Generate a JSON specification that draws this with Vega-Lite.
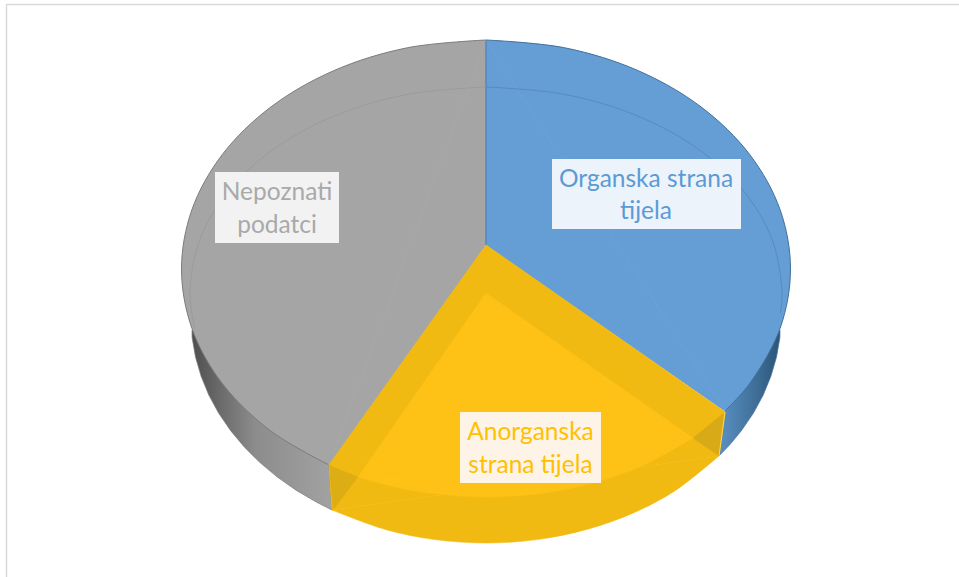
{"$schema":"https://vega.github.io/schema/vega-lite/v6.json","width":959,"height":577,"autosize":"none","padding":0,"background":"#ffffff","config":{"view":{"stroke":null}},
"datasets":{
"shapes":[
{"p":"frame","i":0,"x":6.5,"y":577},{"p":"frame","i":1,"x":6.5,"y":4.5},{"p":"frame","i":2,"x":959,"y":4.5},
{"p":"gwall","i":0,"x":329,"y":465},{"p":"gwall","i":1,"x":332,"y":510},{"p":"gwall","i":2,"x":316.8,"y":502.3},{"p":"gwall","i":3,"x":296.4,"y":490.4},{"p":"gwall","i":4,"x":277.4,"y":477.1},{"p":"gwall","i":5,"x":260,"y":462.6},{"p":"gwall","i":6,"x":244.3,"y":447},{"p":"gwall","i":7,"x":230.5,"y":430.5},{"p":"gwall","i":8,"x":218.6,"y":413.1},{"p":"gwall","i":9,"x":208.8,"y":395},{"p":"gwall","i":10,"x":201.1,"y":376.2},{"p":"gwall","i":11,"x":195.5,"y":357},{"p":"gwall","i":12,"x":192.1,"y":337.6},{"p":"gwall","i":13,"x":192,"y":330},
{"p":"bwall","i":0,"x":725,"y":411},{"p":"bwall","i":1,"x":719,"y":456},{"p":"bwall","i":2,"x":730.6,"y":443.8},{"p":"bwall","i":3,"x":741.5,"y":430.5},{"p":"bwall","i":4,"x":753.4,"y":413.1},{"p":"bwall","i":5,"x":763.2,"y":395},{"p":"bwall","i":6,"x":770.9,"y":376.2},{"p":"bwall","i":7,"x":776.5,"y":357},{"p":"bwall","i":8,"x":779.9,"y":337.6},{"p":"bwall","i":9,"x":780,"y":330},
{"p":"gface","i":0,"x":329,"y":465},{"p":"gface","i":1,"x":270.7,"y":430.9},{"p":"gface","i":2,"x":222.3,"y":383.5},{"p":"gface","i":3,"x":191.9,"y":328.3},{"p":"gface","i":4,"x":181.5,"y":269},{"p":"gface","i":5,"x":191.9,"y":209.7},{"p":"gface","i":6,"x":222.3,"y":154.5},{"p":"gface","i":7,"x":270.7,"y":107.1},{"p":"gface","i":8,"x":333.7,"y":70.7},{"p":"gface","i":9,"x":407.2,"y":47.8},{"p":"gface","i":10,"x":486,"y":40},
{"p":"gtri","i":0,"x":486,"y":40},{"p":"gtri","i":1,"x":486,"y":245},{"p":"gtri","i":2,"x":329,"y":465},{"p":"gtri","i":3,"x":486,"y":40},
{"p":"bface","i":0,"x":486,"y":40},{"p":"bface","i":1,"x":564.8,"y":47.8},{"p":"bface","i":2,"x":638.3,"y":70.7},{"p":"bface","i":3,"x":701.3,"y":107.1},{"p":"bface","i":4,"x":749.7,"y":154.5},{"p":"bface","i":5,"x":780.1,"y":209.7},{"p":"bface","i":6,"x":790.5,"y":269},{"p":"bface","i":7,"x":780.1,"y":328.3},{"p":"bface","i":8,"x":749.7,"y":383.5},{"p":"bface","i":9,"x":725,"y":411},
{"p":"btri","i":0,"x":486,"y":40},{"p":"btri","i":1,"x":725,"y":411},{"p":"btri","i":2,"x":486,"y":245},{"p":"btri","i":3,"x":486,"y":40},
{"p":"seam","i":0,"x":486,"y":40},{"p":"seam","i":1,"x":486,"y":245},
{"p":"ginner","i":0,"x":194.5,"y":327.6},{"p":"ginner","i":1,"x":190,"y":292},{"p":"ginner","i":2,"x":200.1,"y":238.9},{"p":"ginner","i":3,"x":229.7,"y":189.5},{"p":"ginner","i":4,"x":276.7,"y":147},{"p":"ginner","i":5,"x":338,"y":114.5},{"p":"ginner","i":6,"x":409.4,"y":94},{"p":"ginner","i":7,"x":486,"y":87},
{"p":"binner","i":0,"x":486,"y":87},{"p":"binner","i":1,"x":562.6,"y":94},{"p":"binner","i":2,"x":634,"y":114.5},{"p":"binner","i":3,"x":695.3,"y":147},{"p":"binner","i":4,"x":742.3,"y":189.5},{"p":"binner","i":5,"x":771.9,"y":238.9},{"p":"binner","i":6,"x":782,"y":292},{"p":"binner","i":7,"x":780.4,"y":313.4},
{"p":"yarc","i":0,"x":332,"y":510},{"p":"yarc","i":1,"x":385.1,"y":529.4},{"p":"yarc","i":2,"x":434.8,"y":539.6},{"p":"yarc","i":3,"x":486,"y":543},{"p":"yarc","i":4,"x":537.2,"y":539.6},{"p":"yarc","i":5,"x":586.9,"y":529.4},{"p":"yarc","i":6,"x":633.5,"y":512.9},{"p":"yarc","i":7,"x":675.6,"y":490.4},{"p":"yarc","i":8,"x":719,"y":456},
{"p":"ypoly","i":0,"x":486,"y":245},{"p":"ypoly","i":1,"x":725,"y":412},{"p":"ypoly","i":2,"x":719,"y":456},{"p":"ypoly","i":3,"x":332,"y":510},{"p":"ypoly","i":4,"x":329,"y":465},{"p":"ypoly","i":5,"x":486,"y":245},
{"p":"ybarc","i":0,"x":358,"y":477},{"p":"ybarc","i":1,"x":409.6,"y":490},{"p":"ybarc","i":2,"x":486,"y":497},{"p":"ybarc","i":3,"x":562.4,"y":490},{"p":"ybarc","i":4,"x":633.5,"y":469.5},{"p":"ybarc","i":5,"x":693,"y":438},
{"p":"ybtri","i":0,"x":486,"y":293},{"p":"ybtri","i":1,"x":693,"y":438},{"p":"ybtri","i":2,"x":358,"y":477},{"p":"ybtri","i":3,"x":486,"y":293},
{"p":"ydl","i":0,"x":329,"y":465},{"p":"ydl","i":1,"x":358,"y":477},{"p":"ydl","i":2,"x":333,"y":510},
{"p":"ydr","i":0,"x":725,"y":412},{"p":"ydr","i":1,"x":693,"y":438},{"p":"ydr","i":2,"x":719,"y":456},
{"p":"yedge","i":0,"x":725,"y":412},{"p":"yedge","i":1,"x":719,"y":456}
],
"boxes":[
{"name":"Nepoznati podatci","x":215,"x2":339,"y":172,"y2":243},
{"name":"Organska strana tijela","x":552,"x2":741,"y":159,"y2":229},
{"name":"Anorganska strana tijela","x":460,"x2":601,"y":412,"y2":483}
],
"labels":[
{"name":"Nepoznati podatci","t":"Nepoznati","x":277,"y":200},
{"name":"Nepoznati podatci","t":"podatci","x":277,"y":233},
{"name":"Organska strana tijela","t":"Organska strana","x":646,"y":187},
{"name":"Organska strana tijela","t":"tijela","x":646,"y":219},
{"name":"Anorganska strana tijela","t":"Anorganska","x":530.5,"y":440},
{"name":"Anorganska strana tijela","t":"strana tijela","x":530.5,"y":473}
]},
"encoding":{
"x":{"field":"x","type":"quantitative","axis":null,"scale":{"domain":[0,959],"nice":false,"zero":false}},
"y":{"field":"y","type":"quantitative","axis":null,"scale":{"domain":[577,0],"nice":false,"zero":false}}
},
"layer":[
{"data":{"name":"shapes"},"transform":[{"filter":"datum.p=='frame'"}],"mark":{"type":"line","stroke":"#d9d9d9","strokeWidth":1.5},"encoding":{"order":{"field":"i","type":"quantitative"}}},
{"data":{"name":"shapes"},"transform":[{"filter":"datum.p=='gwall'"}],"mark":{"type":"line","strokeWidth":0.7,"stroke":"#777777","fill":{"gradient":"linear","x1":0,"x2":1,"y1":0,"y2":0,"stops":[{"offset":0,"color":"#4f4f4f"},{"offset":0.45,"color":"#8c8c8c"},{"offset":1,"color":"#a2a2a2"}]}},"encoding":{"order":{"field":"i","type":"quantitative"}}},
{"data":{"name":"shapes"},"transform":[{"filter":"datum.p=='bwall'"}],"mark":{"type":"line","strokeWidth":0.7,"stroke":"#3f6f9c","fill":{"gradient":"linear","x1":0,"x2":1,"y1":0,"y2":0,"stops":[{"offset":0,"color":"#5a90c4"},{"offset":0.5,"color":"#44759f"},{"offset":1,"color":"#2b5478"}]}},"encoding":{"order":{"field":"i","type":"quantitative"}}},
{"data":{"name":"shapes"},"transform":[{"filter":"datum.p=='gface'"}],"mark":{"type":"line","interpolate":"catmull-rom","fill":"#a5a5a5","stroke":"#7c7c7c","strokeWidth":1},"encoding":{"order":{"field":"i","type":"quantitative"}}},
{"data":{"name":"shapes"},"transform":[{"filter":"datum.p=='gtri'"}],"mark":{"type":"line","fill":"#a5a5a5","stroke":"#a5a5a5","strokeWidth":1},"encoding":{"order":{"field":"i","type":"quantitative"}}},
{"data":{"name":"shapes"},"transform":[{"filter":"datum.p=='bface'"}],"mark":{"type":"line","interpolate":"catmull-rom","fill":"#659dd5","stroke":"#41719c","strokeWidth":1},"encoding":{"order":{"field":"i","type":"quantitative"}}},
{"data":{"name":"shapes"},"transform":[{"filter":"datum.p=='btri'"}],"mark":{"type":"line","fill":"#659dd5","stroke":"#659dd5","strokeWidth":1},"encoding":{"order":{"field":"i","type":"quantitative"}}},
{"data":{"name":"shapes"},"transform":[{"filter":"datum.p=='seam'"}],"mark":{"type":"line","stroke":"#4b7fb0","strokeWidth":1},"encoding":{"order":{"field":"i","type":"quantitative"}}},
{"data":{"name":"shapes"},"transform":[{"filter":"datum.p=='ginner'"}],"mark":{"type":"line","interpolate":"catmull-rom","stroke":"#979797","strokeWidth":0.7},"encoding":{"order":{"field":"i","type":"quantitative"}}},
{"data":{"name":"shapes"},"transform":[{"filter":"datum.p=='binner'"}],"mark":{"type":"line","interpolate":"catmull-rom","stroke":"#5184b5","strokeWidth":0.7},"encoding":{"order":{"field":"i","type":"quantitative"}}},
{"data":{"name":"shapes"},"transform":[{"filter":"datum.p=='yarc'"}],"mark":{"type":"line","interpolate":"catmull-rom","fill":"#f1ba12","stroke":"#f1ba12","strokeWidth":0.5},"encoding":{"order":{"field":"i","type":"quantitative"}}},
{"data":{"name":"shapes"},"transform":[{"filter":"datum.p=='ypoly'"}],"mark":{"type":"line","fill":"#f1ba12","stroke":"#f1ba12","strokeWidth":0.8},"encoding":{"order":{"field":"i","type":"quantitative"}}},
{"data":{"name":"shapes"},"transform":[{"filter":"datum.p=='ybarc'"}],"mark":{"type":"line","interpolate":"catmull-rom","fill":"#fec116","stroke":"#fec116","strokeWidth":0.5},"encoding":{"order":{"field":"i","type":"quantitative"}}},
{"data":{"name":"shapes"},"transform":[{"filter":"datum.p=='ybtri'"}],"mark":{"type":"line","fill":"#fec116","stroke":"#fec116","strokeWidth":0.5},"encoding":{"order":{"field":"i","type":"quantitative"}}},
{"data":{"name":"shapes"},"transform":[{"filter":"datum.p=='ydl'"}],"mark":{"type":"line","fill":"#dcae14","stroke":"#dcae14","strokeWidth":0.3},"encoding":{"order":{"field":"i","type":"quantitative"}}},
{"data":{"name":"shapes"},"transform":[{"filter":"datum.p=='ydr'"}],"mark":{"type":"line","fill":"#d9aa18","stroke":"#d9aa18","strokeWidth":0.3},"encoding":{"order":{"field":"i","type":"quantitative"}}},
{"data":{"name":"shapes"},"transform":[{"filter":"datum.p=='yedge'"}],"mark":{"type":"line","stroke":"#ffd84d","strokeWidth":1},"encoding":{"order":{"field":"i","type":"quantitative"}}},
{"data":{"name":"boxes"},"mark":{"type":"rect","fill":"#000000","opacity":0.05,"xOffset":5,"yOffset":6},"encoding":{"x2":{"field":"x2"},"y2":{"field":"y2"}}},
{"data":{"name":"boxes"},"mark":{"type":"rect","fill":"#000000","opacity":0.07,"xOffset":3,"yOffset":4},"encoding":{"x2":{"field":"x2"},"y2":{"field":"y2"}}},
{"data":{"name":"boxes"},"mark":{"type":"rect"},"encoding":{"x2":{"field":"x2"},"y2":{"field":"y2"},"fill":{"field":"name","type":"nominal","legend":null,"scale":{"domain":["Nepoznati podatci","Organska strana tijela","Anorganska strana tijela"],"range":["#f2f2f2","#edf3fa","#fdf3e6"]}}}},
{"data":{"name":"labels"},"mark":{"type":"text","font":"Lato","fontSize":24.5,"align":"center","baseline":"alphabetic"},"encoding":{"text":{"field":"t"},"color":{"field":"name","type":"nominal","legend":null,"scale":{"domain":["Nepoznati podatci","Organska strana tijela","Anorganska strana tijela"],"range":["#a9a9a9","#5b9bd5","#ffc000"]}}}}
]}
